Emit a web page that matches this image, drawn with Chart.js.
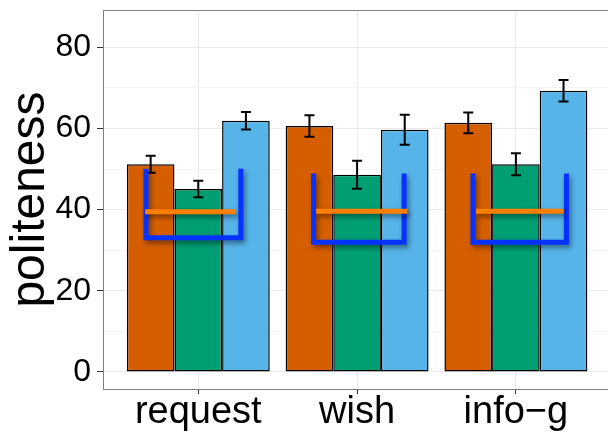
<!DOCTYPE html>
<html><head><meta charset="utf-8">
<script src="https://cdn.jsdelivr.net/npm/chart.js@4/dist/chart.umd.min.js"></script>
<style>html,body{margin:0;padding:0;background:#fff}#wrap{width:608px;height:434px}</style>
</head><body><div id="wrap"><canvas id="c" width="608" height="434"></canvas></div>
<script>
// ---- data ----
const categories = ['request', 'wish', 'info−g'];
const categoryPositions = [1, 2, 3];
const seriesNames = ['series 1', 'series 2', 'series 3'];
const orangeValues = [51.2, 60.6, 61.4];
const greenValues  = [45.1, 48.6, 51.2];
const blueValues   = [61.9, 59.7, 69.3];
const orangeErrors = [2.1, 2.65, 2.55];
const greenErrors  = [2.05, 3.45, 2.7];
const blueErrors   = [2.15, 3.7, 2.65];
// overlay brackets (U shapes) and mean lines
const bracketLeft   = [0.671, 1.726, 2.73];
const bracketRight  = [1.268, 2.296, 3.318];
const bracketTop    = [50.1, 48.9, 48.9];
const bracketBottom = [33.1, 32.0, 32.0];
const meanLineLeft  = [0.665, 1.742, 2.749];
const meanLineRight = [1.235, 2.317, 3.299];
const meanLineY     = [39.5, 39.6, 39.6];
const yTickValues = [0, 10, 20, 30, 40, 50, 60, 70, 80];
const yTickLabels = [0, 20, 40, 60, 80];
const yTitle = 'politeness';

const FONT = "'Liberation Sans', Arial, Helvetica, sans-serif";
const barColors = ['#D55E00', '#009E73', '#56B4E9'];
const seriesValues = [orangeValues, greenValues, blueValues];
const seriesErrors = [orangeErrors, greenErrors, blueErrors];

const datasets = [];
seriesValues.forEach((vals, s) => {
  datasets.push({
    type: 'bar',
    label: seriesNames[s],
    data: vals.map((v, i) => ({ x: categoryPositions[i], y: v })),
    errors: seriesErrors[s],
    backgroundColor: barColors[s],
    borderColor: '#000',
    borderWidth: 1.5,
    borderSkipped: false,
    categoryPercentage: 0.9,
    barPercentage: 1.0,
    order: 2
  });
});
categories.forEach((c, i) => {
  datasets.push({
    type: 'line', label: 'bracket ' + c,
    data: [
      { x: bracketLeft[i], y: bracketTop[i] },
      { x: bracketLeft[i], y: bracketBottom[i] },
      { x: bracketRight[i], y: bracketBottom[i] },
      { x: bracketRight[i], y: bracketTop[i] }
    ],
    borderColor: '#0532FF', borderWidth: 5, pointRadius: 0, tension: 0,
    borderJoinStyle: 'miter', borderCapStyle: 'butt', fill: false, order: 1
  });
  datasets.push({
    type: 'line', label: 'mean ' + c,
    data: [{ x: meanLineLeft[i], y: meanLineY[i] }, { x: meanLineRight[i], y: meanLineY[i] }],
    borderColor: '#FF7F00', borderWidth: 5, pointRadius: 0, tension: 0,
    borderCapStyle: 'butt', fill: false, order: 0
  });
});

const overlayPlugin = {
  id: 'overlay',
  beforeDatasetDraw(chart, args) {
    const ds = chart.data.datasets[args.index];
    if (ds.type === 'line') {
      const ctx = chart.ctx;
      ctx.save();
      ctx.shadowColor = 'rgba(0,0,0,0.45)';
      ctx.shadowBlur = 5;
      ctx.shadowOffsetX = 2;
      ctx.shadowOffsetY = 3;
    }
  },
  afterDatasetDraw(chart, args) {
    const ds = chart.data.datasets[args.index];
    const ctx = chart.ctx;
    if (ds.type === 'line') { ctx.restore(); return; }
    const meta = chart.getDatasetMeta(args.index);
    const ys = chart.scales.y;
    ctx.save();
    ctx.strokeStyle = '#000';
    ctx.lineWidth = 2;
    meta.data.forEach((bar, i) => {
      const v = ds.data[i].y, e = ds.errors[i];
      const yTop = ys.getPixelForValue(v + e), yBot = ys.getPixelForValue(v - e);
      const x = bar.x, hw = 5;
      ctx.beginPath();
      ctx.moveTo(x, yTop); ctx.lineTo(x, yBot);
      ctx.moveTo(x - hw, yTop); ctx.lineTo(x + hw, yTop);
      ctx.moveTo(x - hw, yBot); ctx.lineTo(x + hw, yBot);
      ctx.stroke();
    });
    ctx.restore();
  },
  afterDraw(chart) {
    const a = chart.chartArea, ctx = chart.ctx;
    ctx.save();
    ctx.strokeStyle = '#7F7F7F';
    ctx.lineWidth = 1;
    ctx.strokeRect(a.left + 0.5, a.top + 0.5, a.right - a.left + 4, a.bottom - a.top);
    ctx.restore();
  }
};

new Chart(document.getElementById('c'), {
  type: 'bar',
  data: { datasets },
  options: {
    responsive: false,
    maintainAspectRatio: false,
    devicePixelRatio: 1,
    animation: false,
    layout: { padding: { top: 10, right: 0, left: 0, bottom: 0 } },
    plugins: { legend: { display: false }, tooltip: { enabled: false } },
    scales: {
      x: {
        type: 'linear',
        offset: false,
        min: 0.4, max: 3.58,
        afterBuildTicks(scale) { scale.ticks = categoryPositions.map(v => ({ value: v })); },
        afterFit(scale) { scale.height = 45; scale.paddingLeft = 0; scale.paddingRight = 0; },
        ticks: {
          autoSkip: false, maxRotation: 0, padding: -4,
          color: '#000', font: { family: FONT, size: 38 },
          callback(v) { const i = categoryPositions.indexOf(v); return i >= 0 ? categories[i] : ''; }
        },
        grid: { offset: false, color: '#EBEBEB', lineWidth: 1, tickLength: 5, tickColor: '#333', drawOnChartArea: true },
        border: { display: false }
      },
      y: {
        type: 'linear',
        min: -4.19, max: 89.2,
        afterBuildTicks(scale) { scale.ticks = yTickValues.map(v => ({ value: v })); },
        afterFit(scale) { scale.width = 103; scale.paddingTop = 0; scale.paddingBottom = 0; },
        title: { display: true, text: yTitle, color: '#000', font: { family: FONT, size: 48 }, padding: { top: 2, bottom: 0 } },
        ticks: {
          autoSkip: false, padding: 6, color: '#000', font: { family: FONT, size: 32 },
          callback(v) { return yTickLabels.includes(v) ? String(v) : ''; }
        },
        grid: {
          color: ctx => (yTickLabels.includes(ctx.tick && ctx.tick.value) ? '#EBEBEB' : '#F4F4F4'),
          lineWidth: 1, tickLength: 6,
          tickColor: ctx => (yTickLabels.includes(ctx.tick && ctx.tick.value) ? '#333' : 'rgba(0,0,0,0)')
        },
        border: { display: false }
      }
    }
  },
  plugins: [overlayPlugin]
});
</script>
</body></html>
